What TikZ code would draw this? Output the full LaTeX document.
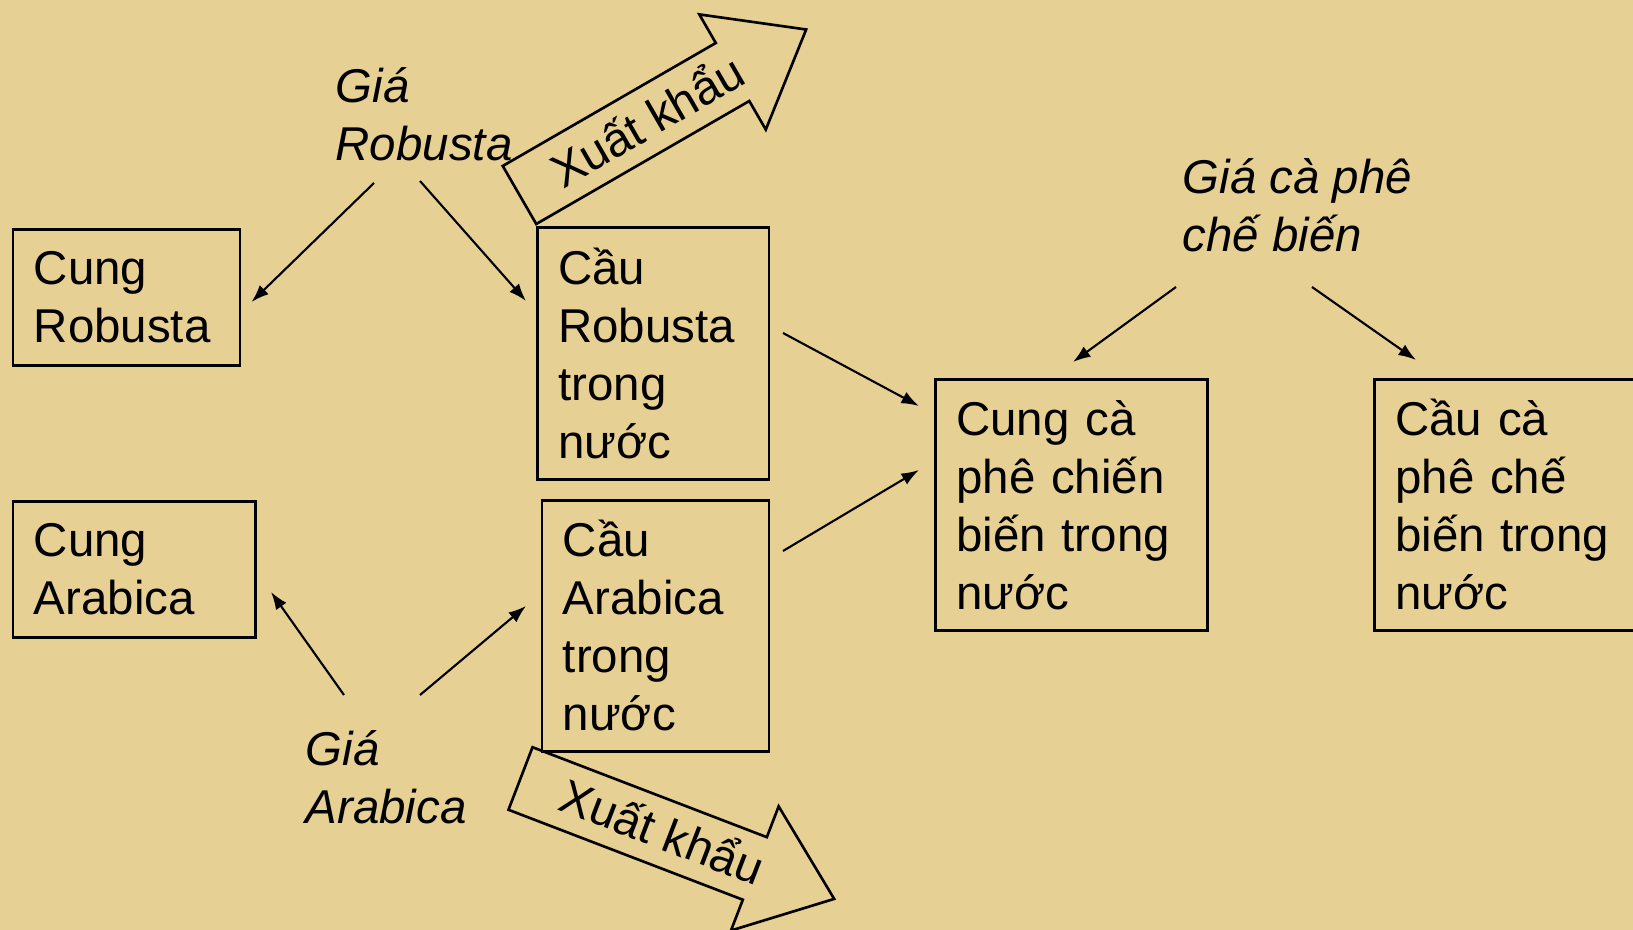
\documentclass[tikz,border=0pt]{standalone}
\usepackage{fontspec}
\setmainfont{Liberation Sans}
\usetikzlibrary{arrows.meta,positioning}
\definecolor{paper}{RGB}{230,208,148}
\newcommand\diagfont{\fontsize{13.5}{16.5}\selectfont}
\tikzstyle{box}=[draw,line width=0.75pt,anchor=north west,inner xsep=0.21cm,inner ysep=0pt,align=left]
\tikzstyle{price}=[anchor=north west,inner sep=0pt,align=left,font=\diagfont\itshape]
\tikzstyle{link}=[-{Latex[length=5pt,width=3.6pt]},line width=0.6pt]
\tikzstyle{export}=[draw,line width=0.75pt,line join=miter]

\begin{document}
\begin{tikzpicture}[font=\diagfont]
        \useasboundingbox (0,0) rectangle (16.33,-9.30);
        \clip (0,0) rectangle (16.33,-9.30);
        \fill[paper] (0,0) rectangle (16.33,-9.30);

        \node[box,text width=1.85cm,minimum height=1.365cm] (cungrob) at (0.115,-2.28) {Cung\\Robusta};
        \node[box,text width=2.005cm,minimum height=1.36cm] (cungara) at (0.115,-5.00) {Cung\\Arabica};
        \node[box,text width=1.895cm,minimum height=2.52cm] (caurob) at (5.36,-2.26) {Cầu\\Robusta\\trong\\nước};
        \node[box,text width=1.85cm,minimum height=2.51cm] (cauara) at (5.405,-4.99) {Cầu\\Arabica\\trong\\nước};
        \node[box,text width=2.30cm,minimum height=2.51cm] (cungcb) at (9.34,-3.78) {Cung cà\\phê chiến\\biến trong\\nước};
        \node[box,text width=2.30cm,minimum height=2.51cm] (caucb) at (13.73,-3.78) {Cầu cà\\phê chế\\biến trong\\nước};

        \node[price] (giarob) at (3.35,-0.67) {Giá\\Robusta};
        \node[price] (giaara) at (3.05,-7.30) {Giá\\Arabica};
        \node[price] (giacb) at (11.82,-1.58) {Giá cà phê\\chế biến};

        \draw[link] ([shift={(0.39,-1.16)}]giarob.north west) -- ([shift={(2.40,-0.74)}]cungrob.north west);
        \draw[link] ([shift={(0.85,-1.14)}]giarob.north west) -- ([shift={(-0.10,-0.75)}]caurob.north west);
        \draw[link] ([shift={(0.39,0.35)}]giaara.north west) -- ([shift={(2.595,-0.92)}]cungara.north west);
        \draw[link] ([shift={(1.15,0.35)}]giaara.north west) -- ([shift={(-0.145,-1.07)}]cauara.north west);
        \draw[link] ([shift={(2.47,-1.07)}]caurob.north west) -- ([shift={(-0.15,-0.28)}]cungcb.north west);
        \draw[link] ([shift={(2.425,-0.52)}]cauara.north west) -- ([shift={(-0.15,-0.92)}]cungcb.north west);
        \draw[link] ([shift={(-0.06,-1.29)}]giacb.north west) -- ([shift={(1.39,0.16)}]cungcb.north west);
        \draw[link] ([shift={(1.30,-1.29)}]giacb.north west) -- ([shift={(0.43,0.18)}]caucb.north west);

        \begin{scope}[shift={(5.195,-1.95)},rotate=30]
          \draw[export] (0,-0.335) -- (2.46,-0.335) -- (2.46,-0.665) -- (3.31,0) -- (2.46,0.665) -- (2.46,0.335) -- (0,0.335) -- cycle;
          \node[anchor=base west,rotate=30,inner sep=0pt] (xkrob) at (0.40,-0.17) {Xuất khẩu};
        \end{scope}
        \begin{scope}[shift={(5.205,-7.785)},rotate=-21]
          \draw[export] (0,-0.335) -- (2.51,-0.335) -- (2.51,-0.665) -- (3.36,0) -- (2.51,0.665) -- (2.51,0.335) -- (0,0.335) -- cycle;
          \node[anchor=base west,rotate=-21,inner sep=0pt] (xkara) at (0.44,-0.16) {Xuất khẩu};
        \end{scope}
\end{tikzpicture}
\end{document}
